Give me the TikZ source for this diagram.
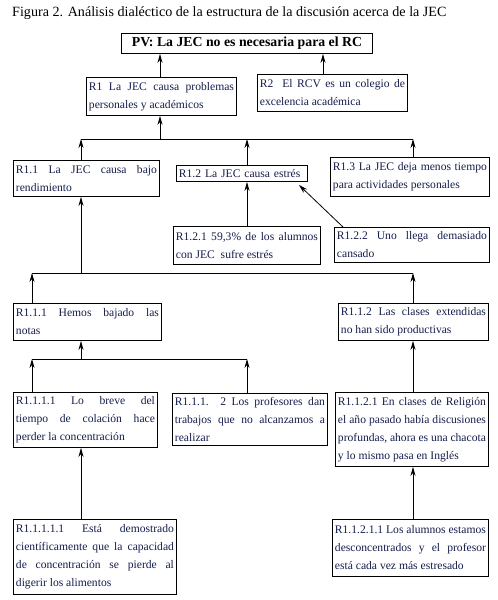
\documentclass[tikz,border=0pt]{standalone}
\usepackage{fontspec}
\setmainfont{Liberation Serif}
\usetikzlibrary{arrows.meta,calc}
\definecolor{boxtext}{RGB}{22,30,75}
\begin{document}
\begin{tikzpicture}[x=1pt,y=-1pt,
  box/.style={draw, line width=0.9pt, anchor=north west, inner xsep=2.5pt, inner ysep=0pt,
    text=boxtext, font=\fontsize{11.6}{18}\selectfont, align=justify},
  arr/.style={line width=0.8pt, -{Stealth[length=9pt,width=5pt]}},
  bus/.style={line width=0.8pt}]
\useasboundingbox[fill=white] (0,0) rectangle (498,600);

% title
\node[font=\fontsize{14.1}{16}\selectfont, anchor=west, inner sep=0pt] (title) at (12,13)
  {Figura 2. Análisis dialéctico de la estructura de la discusión acerca de la JEC};

% boxes
\node[draw, line width=0.9pt, anchor=north west, minimum width=251pt, minimum height=20pt,
  inner sep=0pt, font=\bfseries\fontsize{13.8}{15}\selectfont] (PV) at (121,33)
  {PV: La JEC no es necesaria para el RC};
\node[box, text width=145pt, minimum height=38pt] (R1) at (86,77)
  {R1 La JEC causa problemas\linebreak personales y académicos};
\node[box, text width=145pt, minimum height=37pt] (R2) at (257,74)
  {R2~ El RCV es un colegio de\linebreak excelencia académica};
\node[box, text width=141pt, minimum height=36pt] (R11) at (13,160)
  {R1.1 La JEC causa bajo\linebreak rendimiento};
\node[box, text width=126pt, minimum height=16pt, align=left] (R12) at (176,165)
  {R1.2 La JEC causa estrés};
\node[box, text width=154pt, minimum height=39pt] (R13) at (330,157)
  {R1.3 La JEC deja menos tiempo\linebreak para actividades personales};
\node[box, text width=142pt, minimum height=38pt] (R121) at (173,226)
  {R1.2.1 59,3\% de los alumnos\linebreak con JEC~ sufre estrés};
\node[box, text width=150pt, minimum height=35pt] (R122) at (334,227)
  {R1.2.2 Uno llega demasiado\linebreak cansado};
\node[box, text width=143pt, minimum height=37pt] (R111) at (13,303)
  {R1.1.1 Hemos bajado las\linebreak notas};
\node[box, text width=145pt, minimum height=37pt] (R112) at (338,303)
  {R1.1.2 Las clases extendidas\linebreak no han sido productivas};
\node[box, text width=139pt, minimum height=55pt] (R1111) at (13,392)
  {R1.1.1.1 Lo breve del\linebreak tiempo de colación hace\linebreak perder la concentración};
\node[box, text width=150pt, minimum height=52pt] (R1112) at (172,393)
  {R1.1.1. 2 Los profesores dan\linebreak trabajos que no alcanzamos a\linebreak realizar};
\node[box, text width=148pt, minimum height=74pt] (R1121) at (335,392)
  {R1.1.2.1 En clases de Religión\linebreak el año pasado había discusiones\linebreak profundas, ahora es una chacota\linebreak y lo mismo pasa en Inglés};
\node[box, text width=158pt, minimum height=75pt] (R11111) at (13,519)
  {R1.1.1.1.1 Está demostrado\linebreak científicamente que la capacidad\linebreak de concentración se pierde al\linebreak digerir los alimentos};
\node[box, text width=151pt, minimum height=57pt] (R11211) at (332,519)
  {R1.1.2.1.1 Los alumnos estamos\linebreak desconcentrados y el profesor\linebreak está cada vez más estresado};

% helper coordinates
\coordinate (b1) at (0,139);
\coordinate (b2) at (0,273);
\coordinate (b3) at (0,359);
\coordinate (c32) at (32,0);
\coordinate (c81) at (81,0);
\coordinate (c160) at (160,0);
\coordinate (c247) at (247,0);
\coordinate (c323) at (323,0);
\coordinate (c413) at (413,0);

% connectors
\draw[arr] (R1.north -| c160) -- (PV.south -| c160);
\draw[arr] (R2.north -| c323) -- (PV.south -| c323);
\draw[bus] (b1 -| c81) -- (b1 -| c413);
\draw[arr] (b1 -| c160) -- (R1.south -| c160);
\draw[arr] (R11.north -| c81) -- (b1 -| c81);
\draw[arr] (R12.north -| c247) -- (b1 -| c247);
\draw[arr] (R13.north -| c413) -- (b1 -| c413);
\draw[arr] (R121.north -| c247) -- (R12.south -| c247);
\draw[arr] ($(R122.north west)+(9,0)$) -- ($(R12.south east)+(-9,3)$);
\draw[bus] (b2 -| c32) -- (b2 -| c413);
\draw[arr] (b2 -| c81) -- (R11.south -| c81);
\draw[arr] (R111.north -| c32) -- (b2 -| c32);
\draw[arr] (R112.north -| c413) -- (b2 -| c413);
\draw[bus] (b3 -| c32) -- (b3 -| c247);
\draw[arr] (b3 -| c81) -- (R111.south -| c81);
\draw[arr] (R1111.north -| c32) -- (b3 -| c32);
\draw[arr] (R1112.north -| c247) -- (b3 -| c247);
\draw[arr] (R1121.north -| c413) -- (R112.south -| c413);
\draw[arr] (R11111.north -| c81) -- (R1111.south -| c81);
\draw[arr] (R11211.north -| c413) -- (R1121.south -| c413);
\end{tikzpicture}
\end{document}
